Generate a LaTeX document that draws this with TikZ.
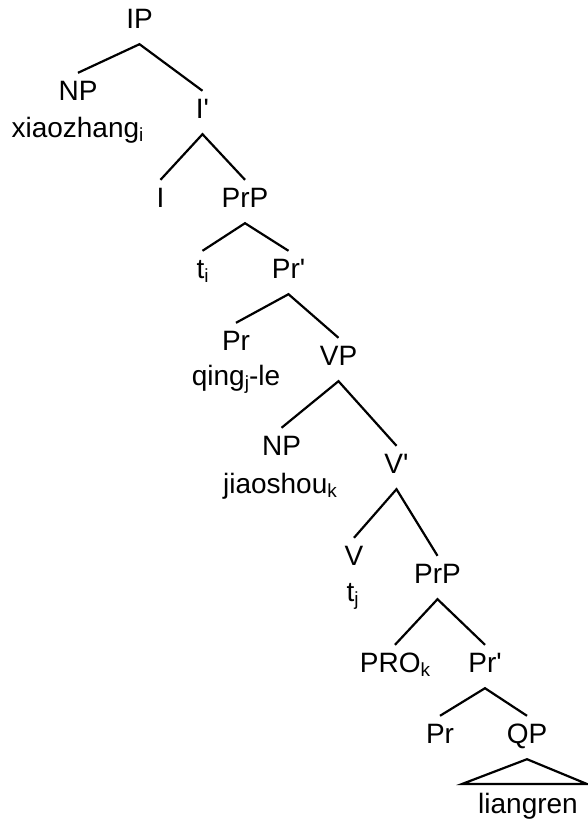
\documentclass[tikz,border=0pt]{standalone}
\usepackage{fontspec}
\setmainfont{Liberation Sans}
\usepackage{tikz}
\usetikzlibrary{calc}
\newcommand{\idx}[1]{\raisebox{-4pt}{\fontsize{19}{20}\selectfont #1}}
\newcommand{\bk}{\textquotesingle}
\tikzset{
  cat/.style={anchor=base, text height=20pt, text depth=9pt,
    inner xsep=1pt, inner ysep=7pt, font=\fontsize{28}{32}\selectfont},
  word/.style={anchor=base, inner sep=0pt, font=\fontsize{28}{32}\selectfont},
  branch/.style={line width=2.2pt, color=black}
}

\begin{document}
\begin{tikzpicture}[x=1pt, y=1pt]
  \useasboundingbox (0,0) rectangle (587,-822);

  % IP layer
  \node[cat] (IP) at (139.5,-28) {IP};
  \node[cat] (NPa) at (78,-100) {NP};
  \node[word] (xiaozhang) at (77.5,-137) {xiaozhang\idx{i}};
  \node[cat] (Ibar) at (202.5,-118) {I\bk};
  \node[cat] (I) at (160.5,-207) {I};
  \node[cat] (PrPa) at (245,-207) {PrP};

  % upper PrP
  \node[cat] (ti) at (202.5,-278) {t\idx{i}};
  \node[cat] (Prbara) at (288.5,-278) {Pr\bk};
  \node[cat] (Pra) at (236,-350) {Pr};
  \node[word] (qingle) at (236,-385) {qing\idx{j}-le};
  \node[cat] (VP) at (338.5,-365) {VP};

  % VP
  \node[cat] (NPb) at (281.5,-455) {NP};
  \node[word] (jiaoshou) at (280,-493) {jiaoshou\idx{k}};
  \node[cat] (Vbar) at (396.5,-473) {V\bk};
  \node[cat] (V) at (354,-565) {V};
  \node[word] (tj) at (352.5,-601) {t\idx{j}};
  \node[cat] (PrPb) at (437.5,-583) {PrP};

  % lower PrP
  \node[cat] (PRO) at (395,-672) {PRO\idx{k}};
  \node[cat] (Prbarb) at (485,-672) {Pr\bk};
  \node[cat] (Prb) at (440,-743) {Pr};
  \node[cat] (QP) at (527,-743) {QP};
  \node[word] (liangren) at (528,-813) {liangren};
  \coordinate (triL) at (462,-784);
  \coordinate (triR) at (587,-784);

  % branches
  \draw[branch] (NPa.north) -- (IP.south) -- (Ibar.north);
  \draw[branch] (I.north) -- (Ibar.south) -- (PrPa.north);
  \draw[branch] (ti.north) -- (PrPa.south) -- (Prbara.north);
  \draw[branch] (Pra.north) -- (Prbara.south) -- (VP.north);
  \draw[branch] (NPb.north) -- (VP.south) -- (Vbar.north);
  \draw[branch] (V.north) -- (Vbar.south) -- (PrPb.north);
  \draw[branch] (PRO.north) -- (PrPb.south) -- (Prbarb.north);
  \draw[branch] (Prb.north) -- (Prbarb.south) -- (QP.north);
  \draw[branch] (QP.south) -- (triL) -- (triR) -- cycle;
\end{tikzpicture}
\end{document}
